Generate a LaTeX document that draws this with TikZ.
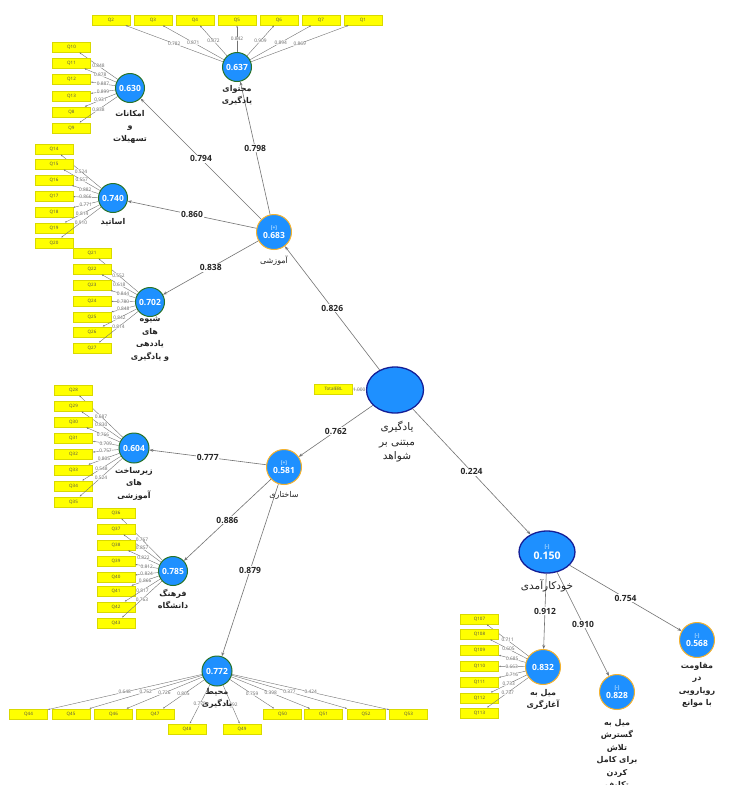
\documentclass[tikz,border=0pt]{standalone}
\usepackage{fontspec}
\setmainfont{Open Sans}
\newfontfamily\fafont[Script=Arabic]{DejaVu Sans}
\TeXXeTstate=1
\usetikzlibrary{shapes.geometric,arrows.meta,calc}
\definecolor{lvblue}{RGB}{30,144,255}
\definecolor{lvgreen}{RGB}{40,115,40}
\definecolor{lvorange}{RGB}{245,178,45}
\definecolor{lvnavy}{RGB}{20,30,150}
\definecolor{indyellow}{RGB}{255,255,0}
\definecolor{edgegray}{RGB}{115,115,115}
\definecolor{markblue}{RGB}{190,225,255}
\newcommand{\fa}[1]{\beginR #1\endR}
\newcommand{\mk}[1]{{\fontsize{5}{5}\selectfont\color{markblue}#1}}
\begin{document}
\begin{tikzpicture}[x=1pt,y=-1pt,
  lv/.style={circle, fill=lvblue, minimum size=29pt, inner sep=0pt, text=white, font=\fontsize{8.5}{9}\selectfont\bfseries, line width=1pt, align=center},
  lvg/.style={lv, draw=lvgreen},
  lvo/.style={lv, draw=lvorange, minimum size=35pt},
  lve/.style={ellipse, fill=lvblue, draw=lvnavy, line width=1.3pt, inner sep=0pt, text=white, font=\fontsize{10.5}{11}\selectfont\bfseries, align=center},
  ind/.style={rectangle, fill=indyellow, draw=indyellow!85!black, line width=0.3pt, minimum width=38pt, minimum height=10.5pt, inner sep=0pt, font=\fontsize{4.5}{5}\selectfont, text=black!70},
  meas/.style={draw=edgegray, line width=0.4pt, -{Latex[length=2pt,width=1.6pt]}},
  struct/.style={draw=edgegray, line width=0.6pt, -{Stealth[length=4pt,width=3pt]}},
  ld/.style={font=\fontsize{4.8}{5}\selectfont, text=black!60, fill=white, fill opacity=0.7, text opacity=1, inner sep=0.3pt},
  pc/.style={font=\fontsize{8.5}{9}\selectfont\bfseries, text=black!85, fill=white, inner sep=0.8pt},
  lab/.style={font=\fafont\fontsize{8}{12.5}\selectfont\bfseries, align=center, text=black!85, inner sep=0pt},
  labreg/.style={font=\fafont\fontsize{8}{12.5}\selectfont, align=center, text=black!85, inner sep=0pt},
  labbig/.style={font=\fafont\fontsize{10.5}{14.5}\selectfont, align=center, text=black!85, inner sep=0pt},
]
\fill[white] (0,0) rectangle (739,785);
\useasboundingbox (0,0) rectangle (739,785);

% latent variables
\node[lvg] (lv1) at (237,67) {0.637};
\node[lvg] (lv2) at (130,88) {0.630};
\node[lvg] (lv3) at (113,198) {0.740};
\node[lvg] (lv4) at (150,302) {0.702};
\node[lvo] (lv5) at (274,232) {\mk{[+]}\\0.683};
\node[lve, minimum width=57pt, minimum height=46pt] (root) at (395,390) {};
\node[lvo] (lv6) at (284,467) {\mk{[+]}\\0.581};
\node[lvg, minimum size=30pt] (lv7) at (134,448) {0.604};
\node[lvg] (lv8) at (173,571) {0.785};
\node[lvg, minimum size=30pt] (lv9) at (217,671) {0.772};
\node[lve, minimum width=56pt, minimum height=42pt] (lv10) at (547,552) {\mk{[-]}\\0.150};
\node[lvo] (lv11) at (543,667) {0.832};
\node[lvo] (lv12) at (617,692) {\mk{[-]}\\0.828};
\node[lvo] (lv13) at (697,640) {\mk{[-]}\\0.568};
\node[ind] (tot) at (333.5,389) {TotalEBL};

% measurement models
\foreach \n/\x/\l in {Q2/111/0.782, Q3/153/0.871, Q4/195/0.872, Q5/237/0.842, Q6/279/0.909, Q7/321/0.894, Q1/363/0.869}{
  \node[ind] (\n) at (\x,20) {\n};
  \draw[meas] (lv1) -- (\n) node[ld,pos=0.5]{\l};
}
\foreach \n/\y/\l in {Q10/47/0.848, Q11/63/0.878, Q12/79/0.887, Q13/96/0.899, Q8/112/0.931, Q9/128/0.838}{
  \node[ind] (\n) at (71.5,\y) {\n};
  \draw[meas] (lv2) -- (\n) node[ld,pos=0.5]{\l};
}
\foreach \n/\y/\l in {Q14/149/0.524, Q15/164/0.557, Q16/180/0.882, Q17/196/0.866, Q18/212/0.771, Q19/228/0.814, Q20/243/0.910}{
  \node[ind] (\n) at (54,\y) {\n};
  \draw[meas] (lv3) -- (\n) node[ld,pos=0.5]{\l};
}
\foreach \n/\y/\l in {Q21/253/0.552, Q22/269/0.618, Q23/285/0.844, Q24/301/0.780, Q25/317/0.848, Q26/332/0.842, Q27/348/0.814}{
  \node[ind] (\n) at (92,\y) {\n};
  \draw[meas] (lv4) -- (\n) node[ld,pos=0.5]{\l};
}
\foreach \n/\y/\l in {Q28/390/0.687, Q29/406/0.830, Q30/422/0.766, Q31/438/0.709, Q32/454/0.757, Q33/470/0.805, Q34/486/0.548, Q35/502/0.524}{
  \node[ind] (\n) at (73.5,\y) {\n};
  \draw[meas] (lv7) -- (\n) node[ld,pos=0.5]{\l};
}
\foreach \n/\y/\l in {Q36/513/0.767, Q37/529/0.857, Q38/545/0.822, Q39/561/0.812, Q40/577/0.824, Q41/591/0.866, Q42/607/0.817, Q43/623/0.763}{
  \node[ind] (\n) at (116,\y) {\n};
  \draw[meas] (lv8) -- (\n) node[ld,pos=0.5]{\l};
}
\foreach \n/\x/\y/\l in {Q44/28.5/714/0.648, Q45/71/714/0.752, Q46/113.5/714/0.726, Q47/155/714/0.805, Q48/187/729/0.778, Q49/242/729/0.692, Q50/282.5/714/0.759, Q51/323.5/714/0.398, Q52/366/714/0.377, Q53/408.5/714/0.424}{
  \node[ind] (\n) at (\x,\y) {\n};
  \draw[meas] (lv9) -- (\n) node[ld,pos=0.5]{\l};
}
\foreach \n/\y/\l in {Q107/619/0.711, Q108/634/0.605, Q109/650/0.685, Q110/666/0.663, Q111/682/0.716, Q112/698/0.733, Q113/713/0.737}{
  \node[ind] (\n) at (479.5,\y) {\n};
  \draw[meas] (lv11) -- (\n) node[ld,pos=0.5]{\l};
}
\draw[meas] (root) -- (tot) node[ld,pos=0.5]{1.000};

% structural model
\draw[struct] (root) -- (lv5) node[pc,pos=0.5]{0.826};
\draw[struct] (lv5) -- (lv1) node[pc,pos=0.5]{0.798};
\draw[struct] (lv5) -- (lv2) node[pc,pos=0.5]{0.794};
\draw[struct] (lv5) -- (lv3) node[pc,pos=0.5]{0.860};
\draw[struct] (lv5) -- (lv4) node[pc,pos=0.5]{0.838};
\draw[struct] (root) -- (lv6) node[pc,pos=0.5]{0.762};
\draw[struct] (lv6) -- (lv7) node[pc,pos=0.5]{0.777};
\draw[struct] (lv6) -- (lv8) node[pc,pos=0.5]{0.886};
\draw[struct] (lv6) -- (lv9) node[pc,pos=0.5]{0.879};
\draw[struct] (root) -- (lv10) node[pc,pos=0.5]{0.224};
\draw[struct] (lv10) -- (lv11) node[pc,pos=0.5]{0.912};
\draw[struct] (lv10) -- (lv12) node[pc,pos=0.5]{0.910};
\draw[struct] (lv10) -- (lv13) node[pc,pos=0.5]{0.754};

% labels
\node[lab, anchor=north] (t1) at (237,85) {\fa{محتوای}\\\fa{یادگیری}};
\node[lab, anchor=north] (t2) at (130,110) {\fa{امکانات}\\\fa{و}\\\fa{تسهیلات}};
\node[lab] (t3) at (113,222) {\fa{اساتید}};
\node[lab, anchor=north] (t4) at (150,317) {\fa{شیوه}\\\fa{های}\\\fa{یاددهی}\\\fa{و یادگیری}};
\node[labreg] (t5) at (274,261) {\fa{آموزشی}};
\node[lab, anchor=north] (t7) at (134,467) {\fa{زیرساخت}\\\fa{های}\\\fa{آموزشی}};
\node[labreg] (t6) at (284,495) {\fa{ساختاری}};
\node[lab, anchor=north] (t8) at (173,589) {\fa{فرهنگ}\\\fa{دانشگاه}};
\node[lab, anchor=north] (t9) at (217,688) {\fa{محیط}\\\fa{یادگیری}};
\node[labbig, anchor=north] (troot) at (397,421) {\fa{یادگیری}\\\fa{مبتنی بر}\\\fa{شواهد}};
\node[labbig] (t10) at (547,586) {\fa{خودکارآمدی}};
\node[lab, anchor=north] (t11) at (543,689) {\fa{میل به}\\\fa{آغازگری}};
\node[lab, anchor=north] (t12) at (617,719) {\fa{میل به}\\\fa{گسترش}\\\fa{تلاش}\\\fa{برای کامل}\\\fa{کردن}\\\fa{تکلیف}};
\node[lab, anchor=north] (t13) at (697,662) {\fa{مقاومت}\\\fa{در}\\\fa{رویارویی}\\\fa{با موانع}};
\end{tikzpicture}
\end{document}
